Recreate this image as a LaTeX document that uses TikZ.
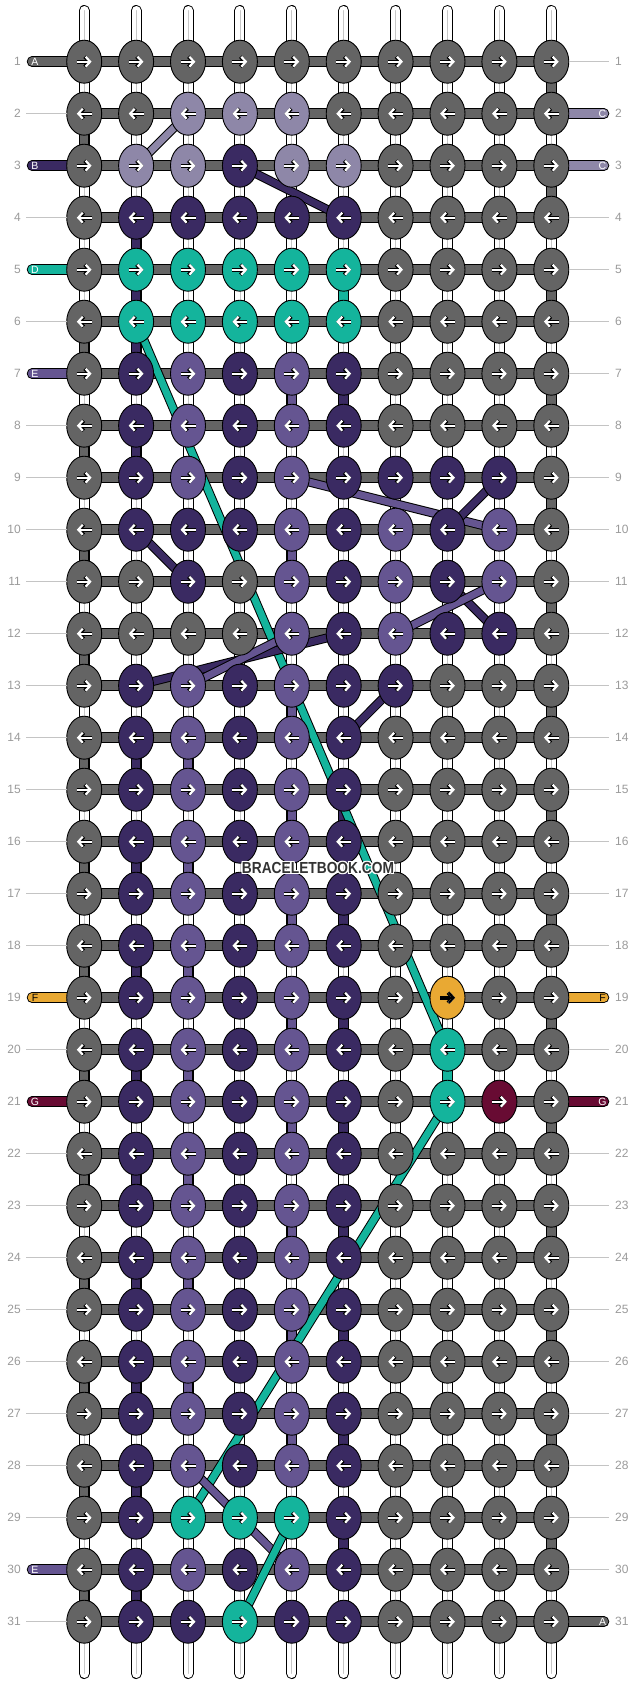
\documentclass[tikz,border=0pt]{standalone}
\usepackage{fontspec}
\setmainfont{Liberation Sans}
\usetikzlibrary{shapes.geometric, positioning, arrows.meta}
\definecolor{gy}{HTML}{646464}
\definecolor{lp}{HTML}{8E87A8}
\definecolor{dp}{HTML}{3A2A62}
\definecolor{tl}{HTML}{14B49C}
\definecolor{mp}{HTML}{655591}
\definecolor{og}{HTML}{E9A933}
\definecolor{mr}{HTML}{680B33}
\definecolor{numgray}{HTML}{9A9A9A}
\definecolor{leadgray}{HTML}{C4C4C4}
\definecolor{wmgray}{HTML}{333333}
\pgfdeclarelayer{strands}
\pgfdeclarelayer{bars}
\pgfsetlayers{strands,bars,main}

\begin{document}
\begin{tikzpicture}[x=1pt, y=-1pt,
  knot/.style={ellipse, minimum width=35pt, minimum height=43pt, inner sep=0pt, outer sep=0pt, draw=black, line width=0.9pt},
  arrow out/.style={line width=3.6pt, black, -{Straight Barb[length=4.6pt, width=10pt]}},
  arrow in/.style={line width=2.2pt, white, -{Straight Barb[length=4.6pt, width=10pt]}},
  strand/.style={line width=9pt, draw=white, line cap=round, preaction={draw=black, line width=11pt, line cap=round}, postaction={draw=black!22, line width=0.8pt}},
  bar/.style={line width=8.5pt, draw=gy, preaction={draw=black, line width=10.5pt}},
  seg/.style={line width=8.5pt, draw=#1, preaction={draw=black, line width=10.5pt}},
  endstrand/.style={line width=8.5pt, draw=#1, line cap=round, preaction={draw=black, line width=10.5pt, line cap=round}},
  diag/.style={line width=7pt, draw=#1, preaction={draw=black, line width=9pt}},
  leader/.style={draw=leadgray, line width=0.9pt},
  num/.style={font=\fontsize{12}{12}\selectfont, text=numgray, inner sep=0pt},
  endlet/.style={font=\fontsize{10.5}{10.5}\selectfont, inner sep=0pt},
  wmtext/.style={font=\fontsize{16}{16}\selectfont\bfseries, inner sep=0pt}]
\useasboundingbox (0,0) rectangle (636,1684);

% knots, row by row
\foreach \rw/\row in {
  1/{gy,gy,gy,gy,gy,gy,gy,gy,gy,gy},
  2/{gy,gy,lp,lp,lp,gy,gy,gy,gy,gy},
  3/{gy,lp,lp,dp,lp,lp,gy,gy,gy,gy},
  4/{gy,dp,dp,dp,dp,dp,gy,gy,gy,gy},
  5/{gy,tl,tl,tl,tl,tl,gy,gy,gy,gy},
  6/{gy,tl,tl,tl,tl,tl,gy,gy,gy,gy},
  7/{gy,dp,mp,dp,mp,dp,gy,gy,gy,gy},
  8/{gy,dp,mp,dp,mp,dp,gy,gy,gy,gy},
  9/{gy,dp,mp,dp,mp,dp,dp,dp,dp,gy},
  10/{gy,dp,dp,dp,mp,dp,mp,dp,mp,gy},
  11/{gy,gy,dp,gy,mp,dp,mp,dp,mp,gy},
  12/{gy,gy,gy,gy,mp,dp,mp,dp,dp,gy},
  13/{gy,dp,mp,dp,mp,dp,dp,gy,gy,gy},
  14/{gy,dp,mp,dp,mp,dp,gy,gy,gy,gy},
  15/{gy,dp,mp,dp,mp,dp,gy,gy,gy,gy},
  16/{gy,dp,mp,dp,mp,dp,gy,gy,gy,gy},
  17/{gy,dp,mp,dp,mp,dp,gy,gy,gy,gy},
  18/{gy,dp,mp,dp,mp,dp,gy,gy,gy,gy},
  19/{gy,dp,mp,dp,mp,dp,gy,og,gy,gy},
  20/{gy,dp,mp,dp,mp,dp,gy,tl,gy,gy},
  21/{gy,dp,mp,dp,mp,dp,gy,tl,mr,gy},
  22/{gy,dp,mp,dp,mp,dp,gy,gy,gy,gy},
  23/{gy,dp,mp,dp,mp,dp,gy,gy,gy,gy},
  24/{gy,dp,mp,dp,mp,dp,gy,gy,gy,gy},
  25/{gy,dp,mp,dp,mp,dp,gy,gy,gy,gy},
  26/{gy,dp,mp,dp,mp,dp,gy,gy,gy,gy},
  27/{gy,dp,mp,dp,mp,dp,gy,gy,gy,gy},
  28/{gy,dp,mp,dp,mp,dp,gy,gy,gy,gy},
  29/{gy,dp,tl,tl,tl,dp,gy,gy,gy,gy},
  30/{gy,dp,mp,dp,mp,dp,gy,gy,gy,gy},
  31/{gy,dp,dp,tl,dp,dp,gy,gy,gy,gy}}
  \foreach \k [count=\col] in \row
    \node[knot, fill=\k] (k-\rw-\col) at ({84.2+51.9*(\col-1)}, {61.7+52*(\rw-1)}) {};

% arrows: odd rows right, even rows left
\foreach \rw in {1,...,31}{
  \ifodd\rw \def\dir{1}\else \def\dir{-1}\fi
  \foreach \col in {1,...,10}{
    \draw[arrow out] ([xshift={-7.5*\dir}]k-\rw-\col.center) -- ([xshift={7.5*\dir}]k-\rw-\col.center);
    \draw[arrow in] ([xshift={-7.5*\dir}]k-\rw-\col.center) -- ([xshift={7.5*\dir}]k-\rw-\col.center);
  }
}
\draw[arrow in, black] ([xshift=-7.5pt]k-19-8.center) -- ([xshift=7.5pt]k-19-8.center);

% row numbers
\foreach \rw in {1,...,31}{
  \node[num, left=45.7pt of k-\rw-1] (num-l-\rw) {\rw};
  \node[num, right=46.2pt of k-\rw-10] (num-r-\rw) {\rw};
}
\foreach \rw in {2,4,6,8,9,10,11,12,13,14,15,16,17,18,20,22,23,24,25,26,27,28,29,31}{
  \coordinate[left=40.7pt of k-\rw-1] (lead-l-\rw);
  \draw[leader] (lead-l-\rw) -- (k-\rw-1.west);
}
\foreach \rw in {1,4,5,6,7,8,9,10,11,12,13,14,15,16,17,18,20,22,23,24,25,26,27,28,29,30}{
  \coordinate[right=40.2pt of k-\rw-10] (lead-r-\rw);
  \draw[leader] (k-\rw-10.east) -- (lead-r-\rw);
}

% loose ends with letters
\foreach \rw/\clr/\lt/\tc in {1/gy/A/white, 3/dp/B/white, 5/tl/D/white, 7/mp/E/white, 19/og/F/black, 21/mr/G/white, 30/mp/E/white}{
  \coordinate[left=34.7pt of k-\rw-1] (end-l-\rw);
  \begin{pgfonlayer}{bars}
    \draw[endstrand=\clr] (end-l-\rw) -- (k-\rw-1.center);
  \end{pgfonlayer}
  \node[endlet, text=\tc] (let-l-\rw) at ([xshift=3pt]end-l-\rw) {\lt};
}
\foreach \rw/\clr/\lt/\tc in {2/lp/C/white, 3/lp/C/white, 19/og/F/black, 21/mr/G/white, 31/gy/A/white}{
  \coordinate[right=35.2pt of k-\rw-10] (end-r-\rw);
  \begin{pgfonlayer}{bars}
    \draw[endstrand=\clr] (k-\rw-10.center) -- (end-r-\rw);
  \end{pgfonlayer}
  \node[endlet, text=\tc] (let-r-\rw) at ([xshift=-1.5pt]end-r-\rw) {\lt};
}

% white warp strands
\begin{pgfonlayer}{strands}
\foreach \col in {1,...,10}{
  \coordinate (top-\col) at ({84.2+51.9*(\col-1)}, 10.5);
  \coordinate (bot-\col) at ({84.2+51.9*(\col-1)}, 1673.5);
  \draw[strand] (top-\col) -- (bot-\col);
}
\end{pgfonlayer}

\begin{pgfonlayer}{bars}
\foreach \rw in {1,...,31}
  \draw[bar] (k-\rw-1.center) -- (k-\rw-10.center);
% coloured pieces between rows
\foreach \rw/\col/\clr in {1/10/gy, 2/1/gy, 3/10/gy, 4/2/dp, 5/2/dp, 5/6/tl, 5/10/gy,
    6/1/gy, 6/2/dp, 7/5/mp, 7/6/dp, 7/10/gy, 8/1/gy, 8/2/dp, 9/10/gy, 10/1/gy, 10/5/mp,
    11/10/gy, 12/1/gy, 13/5/mp, 13/10/gy, 14/1/gy, 14/2/dp, 14/3/mp, 15/5/mp, 15/6/dp,
    15/10/gy, 16/1/gy, 16/2/dp, 16/3/mp, 17/5/mp, 17/6/dp, 17/10/gy, 18/1/gy, 18/2/dp,
    18/3/mp, 19/5/mp, 19/6/dp, 19/10/gy, 20/1/gy, 20/2/dp, 20/3/mp, 20/8/tl, 21/5/mp,
    21/6/dp, 21/10/gy, 22/1/gy, 22/2/dp, 22/3/mp, 23/5/mp, 23/6/dp, 23/10/gy, 24/1/gy,
    24/2/dp, 24/3/mp, 25/5/mp, 25/6/dp, 25/10/gy, 26/1/gy, 26/2/dp, 26/3/mp, 27/5/mp,
    27/6/dp, 27/10/gy, 28/1/gy, 28/2/dp, 29/6/dp, 29/10/gy, 30/1/gy, 30/2/dp}{
  \pgfmathtruncatemacro\nx{\rw+1}
  \draw[seg=\clr] (k-\rw-\col.center) -- (k-\nx-\col.center);
}
% diagonal threads
\foreach \a/\b/\clr in {2-3/3-2/lp, 3-4/4-6/dp, 6-2/20-8/tl, 10-2/11-3/dp, 9-5/10-9/mp,
    9-9/10-8/dp, 11-8/12-9/dp, 11-9/12-7/mp, 13-2/12-6/dp, 13-3/12-5/mp, 13-7/14-6/dp,
    21-8/29-3/tl, 28-3/30-5/mp, 29-5/31-4/tl}
  \draw[diag=\clr] (k-\a.center) -- (k-\b.center);
\end{pgfonlayer}

% watermark
\foreach \dx/\dy [count=\i] in {1/0, -1/0, 0/1, 0/-1, 1/1, 1/-1, -1/1, -1/-1}
  \node[wmtext, text=white] (wm-\i) at (318+\dx, 867.5+\dy) {\scalebox{0.86}[1]{BRACELETBOOK.COM}};
\node[wmtext, text=wmgray] (wm) at (318, 867.5) {\scalebox{0.86}[1]{BRACELETBOOK.COM}};

\end{tikzpicture}
\end{document}
